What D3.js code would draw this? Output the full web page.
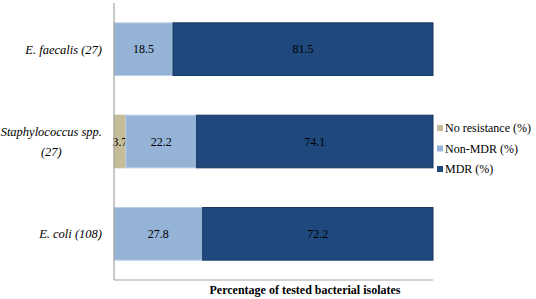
<!DOCTYPE html>
<html>
<head>
<meta charset="utf-8">
<script src="https://cdn.jsdelivr.net/npm/d3@7"></script>
<style>
  html, body { margin: 0; padding: 0; background: #fff; }
  svg { display: block; }
</style>
</head>
<body>
<svg id="chart" width="536" height="299"></svg>
<script>
// categories, top to bottom
const categories = [["E. faecalis (27)"], ["Staphylococcus spp.", "(27)"], ["E. coli (108)"]];
const seriesNames = ["No resistance (%)", "Non-MDR (%)", "MDR (%)"];
const noResistance = [0, 3.7, 0];
const nonMDR = [18.5, 22.2, 27.8];
const mdr = [81.5, 74.1, 72.2];
const axisTitle = "Percentage of tested bacterial isolates";

const FONT = "'Liberation Serif', 'Times New Roman', serif";
const colors = ["#c4bd97", "#95b3d7", "#1f497d"];
const strokes = ["#c4bd97", "#b9cde5", "#17375e"];

const plot = { left: 114, right: 433, top: 3, bottom: 280 };

const svg = d3.select("#chart");

const x = d3.scaleLinear().domain([0, 100]).range([plot.left, plot.right]);
const y = d3.scaleBand()
    .domain(d3.range(categories.length))
    .range([plot.top, plot.bottom])
    .paddingInner(0.43).paddingOuter(0.215);

const rows = categories.map((c, i) => ({ i, vals: [noResistance[i], nonMDR[i], mdr[i]] }));
const stacked = d3.stack().keys([0, 1, 2]).value((d, k) => d.vals[k])(rows);

// ── Bars ─────────────────────────────────────────────
stacked.forEach((layer, k) => {
    svg.append("g").selectAll("rect")
        .data(layer.filter(d => d[1] > d[0]))
        .enter().append("rect")
        .attr("x", d => x(d[0]))
        .attr("y", d => y(d.data.i))
        .attr("width", d => x(d[1]) - x(d[0]))
        .attr("height", y.bandwidth())
        .attr("fill", colors[k])
        .attr("stroke", strokes[k]).attr("stroke-width", 1);

    svg.append("g").selectAll("text")
        .data(layer.filter(d => d[1] > d[0]))
        .enter().append("text")
        .attr("x", d => (x(d[0]) + x(d[1])) / 2)
        .attr("y", d => y(d.data.i) + y.bandwidth() / 2)
        .attr("dy", "0.35em")
        .attr("text-anchor", "middle")
        .style("font-family", FONT)
        .style("font-size", "12px").attr("fill", "#000")
        .text(d => (d[1] - d[0]).toFixed(1));
});

// ── Axes lines ───────────────────────────────────────
svg.append("line")
    .attr("x1", plot.left).attr("x2", plot.left)
    .attr("y1", plot.top).attr("y2", plot.bottom)
    .attr("stroke", "#a6a6a6").attr("stroke-width", 1.2);
svg.append("line")
    .attr("x1", plot.left).attr("x2", plot.right)
    .attr("y1", plot.bottom).attr("y2", plot.bottom)
    .attr("stroke", "#a6a6a6").attr("stroke-width", 1.2);

// ── Category labels ─────────────────────────────────
categories.forEach((lines, i) => {
    const cy = y(i) + y.bandwidth() / 2;
    const lh = 20;
    const g = svg.append("g");
    const t0 = g.append("text")
        .attr("x", 102)
        .attr("y", cy - (lines.length - 1) * lh / 2)
        .attr("dy", "0.35em")
        .attr("text-anchor", "end")
        .style("font-family", FONT)
        .style("font-size", "12.5px").style("font-style", "italic")
        .text(lines[0]);
    if (lines.length > 1) {
        const w = t0.node().getComputedTextLength();
        lines.slice(1).forEach((ln, j) => {
            g.append("text")
                .attr("x", 102 - w / 2)
                .attr("y", cy - (lines.length - 1) * lh / 2 + (j + 1) * lh)
                .attr("dy", "0.35em")
                .attr("text-anchor", "middle")
                .style("font-family", FONT)
                .style("font-size", "12.5px").style("font-style", "italic")
                .text(ln);
        });
    }
});

// ── Axis title ──────────────────────────────────────
svg.append("text")
    .attr("x", 305).attr("y", 290)
    .attr("dy", "0.35em")
    .attr("text-anchor", "middle")
    .style("font-family", FONT)
    .style("font-size", "12px").style("font-weight", "bold")
    .text(axisTitle);

// ── Legend ──────────────────────────────────────────
const legend = svg.append("g");
seriesNames.forEach((name, k) => {
    const ly = 128 + k * 20.5;
    legend.append("rect")
        .attr("x", 437).attr("y", ly - 3)
        .attr("width", 6).attr("height", 6)
        .attr("fill", colors[k]);
    legend.append("text")
        .attr("x", 445).attr("y", ly)
        .attr("dy", "0.35em")
        .style("font-family", FONT)
        .style("font-size", "12px")
        .text(name);
});
</script>
</body>
</html>
